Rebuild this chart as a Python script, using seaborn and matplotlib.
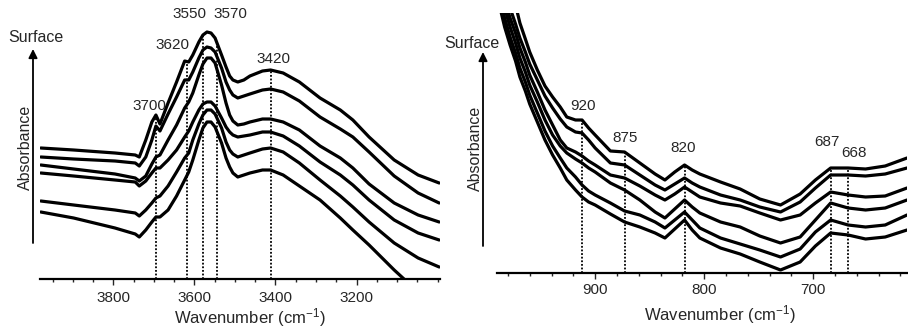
import numpy as np
import pandas as pd
import seaborn as sns
import matplotlib
matplotlib.use("Agg")
import matplotlib.pyplot as plt
from matplotlib.patches import FancyArrowPatch

# ─── Data: O-H stretching region (left panel) ─────────────────────────────────
oh_wavenumber = [3979, 3898, 3796, 3746, 3736, 3720, 3705, 3695, 3685, 3665,
                 3644, 3624, 3614, 3604, 3589, 3579, 3569, 3559, 3549, 3533,
                 3522, 3513, 3505, 3493, 3478, 3463, 3432, 3412, 3381, 3341,
                 3290, 3240, 3209, 3169, 3107, 3048, 2996]
oh_spectra = [
    [1.31, 1.29, 1.26, 1.24, 1.22, 1.39, 1.57, 1.64, 1.55, 1.76, 1.97, 2.18, 2.17, 2.24, 2.37, 2.44,
     2.47, 2.46, 2.41, 2.24, 2.12, 2.03, 1.99, 1.97, 1.99, 2.03, 2.08, 2.09, 2.06, 1.97, 1.81, 1.69,
     1.59, 1.42, 1.19, 1.04, 0.96],
    [1.22, 1.20, 1.18, 1.16, 1.13, 1.22, 1.39, 1.53, 1.48, 1.65, 1.82, 1.99, 1.99, 2.07, 2.21, 2.29,
     2.32, 2.31, 2.27, 2.11, 1.97, 1.89, 1.84, 1.81, 1.83, 1.85, 1.89, 1.90, 1.87, 1.78, 1.62, 1.50,
     1.42, 1.27, 1.03, 0.86, 0.76],
    [1.14, 1.10, 1.05, 1.01, 0.98, 1.03, 1.15, 1.22, 1.24, 1.39, 1.54, 1.71, 1.77, 1.86, 2.04, 2.15,
     2.21, 2.21, 2.16, 1.94, 1.76, 1.64, 1.58, 1.54, 1.55, 1.57, 1.60, 1.60, 1.57, 1.49, 1.33, 1.21,
     1.11, 0.95, 0.76, 0.64, 0.57],
    [1.06, 1.03, 0.99, 0.97, 0.93, 0.98, 1.06, 1.11, 1.11, 1.19, 1.29, 1.42, 1.48, 1.57, 1.69, 1.75,
     1.77, 1.77, 1.73, 1.61, 1.52, 1.47, 1.44, 1.42, 1.43, 1.44, 1.47, 1.47, 1.43, 1.33, 1.17, 1.04,
     0.94, 0.79, 0.59, 0.46, 0.39],
    [0.78, 0.74, 0.69, 0.66, 0.63, 0.69, 0.76, 0.81, 0.83, 0.93, 1.07, 1.21, 1.26, 1.39, 1.55, 1.64,
     1.69, 1.69, 1.65, 1.51, 1.37, 1.29, 1.25, 1.22, 1.24, 1.26, 1.30, 1.31, 1.27, 1.16, 0.99, 0.83,
     0.72, 0.57, 0.36, 0.21, 0.12],
    [0.67, 0.61, 0.51, 0.45, 0.42, 0.49, 0.57, 0.62, 0.62, 0.69, 0.83, 0.99, 1.07, 1.19, 1.39, 1.51,
     1.57, 1.57, 1.52, 1.36, 1.21, 1.12, 1.06, 1.02, 1.04, 1.06, 1.09, 1.09, 1.04, 0.93, 0.79, 0.61,
     0.49, 0.34, 0.09, -0.13, -0.24],
]
oh_marks = [3695, 3619, 3579, 3544, 3411]
oh_labels = ["3700", "3620", "3550", "3570", "3420"]
oh_label_pos = [(3712, 1.73), (3653, 2.34), (3612, 2.65), (3510, 2.65), (3404, 2.20)]

# ─── Data: lattice region (right panel) ───────────────────────────────────────
lat_wavenumber = [990, 983, 978, 973, 969, 964, 960, 953, 946, 939, 932, 926, 918, 912,
                  906, 900, 886, 873, 859, 845, 836, 827, 818, 811, 804, 785, 767, 749,
                  730, 712, 698, 684, 668, 652, 634, 614]
lat_spectra = [
    [3.33, 3.03, 2.85, 2.68, 2.50, 2.34, 2.21, 2.03, 1.87, 1.76, 1.66, 1.56, 1.53, 1.53,
     1.45, 1.38, 1.22, 1.21, 1.10, 0.99, 0.93, 1.01, 1.08, 1.03, 0.99, 0.91, 0.84, 0.74,
     0.68, 0.79, 0.93, 1.05, 1.05, 1.04, 1.07, 1.15],
    [3.18, 2.83, 2.65, 2.49, 2.35, 2.21, 2.09, 1.93, 1.77, 1.65, 1.54, 1.46, 1.41, 1.40,
     1.33, 1.25, 1.10, 1.08, 0.98, 0.88, 0.83, 0.89, 0.95, 0.90, 0.86, 0.78, 0.73, 0.66,
     0.61, 0.71, 0.85, 0.98, 0.98, 0.97, 0.99, 1.05],
    [3.08, 2.73, 2.55, 2.40, 2.25, 2.11, 1.98, 1.81, 1.63, 1.48, 1.33, 1.25, 1.21, 1.17,
     1.12, 1.08, 0.98, 0.95, 0.87, 0.78, 0.73, 0.79, 0.86, 0.81, 0.76, 0.70, 0.67, 0.60,
     0.53, 0.58, 0.70, 0.81, 0.78, 0.76, 0.77, 0.85],
    [2.98, 2.65, 2.46, 2.30, 2.15, 2.01, 1.88, 1.71, 1.53, 1.38, 1.27, 1.20, 1.14, 1.10,
     1.05, 1.01, 0.90, 0.83, 0.73, 0.61, 0.55, 0.64, 0.73, 0.66, 0.60, 0.51, 0.46, 0.37,
     0.30, 0.36, 0.53, 0.70, 0.65, 0.63, 0.65, 0.73],
    [2.88, 2.55, 2.36, 2.20, 2.05, 1.91, 1.78, 1.60, 1.42, 1.27, 1.15, 1.05, 0.96, 0.88,
     0.82, 0.78, 0.70, 0.62, 0.58, 0.51, 0.45, 0.53, 0.61, 0.53, 0.45, 0.35, 0.29, 0.23,
     0.16, 0.24, 0.41, 0.53, 0.48, 0.46, 0.48, 0.58],
    [2.78, 2.46, 2.28, 2.12, 1.96, 1.82, 1.69, 1.51, 1.33, 1.18, 1.05, 0.93, 0.83, 0.76,
     0.71, 0.68, 0.59, 0.51, 0.46, 0.40, 0.35, 0.44, 0.53, 0.43, 0.35, 0.25, 0.19, 0.11,
     0.03, 0.11, 0.27, 0.40, 0.38, 0.34, 0.36, 0.43],
]
lat_marks = [912, 873, 818, 684, 668]
lat_labels = ["920", "875", "820", "687", "668"]
lat_label_pos = [(911, 1.67), (873, 1.35), (819, 1.25), (687, 1.31), (663, 1.20)]

# ─── Style ────────────────────────────────────────────────────────────────────
sns.set_theme(style="white")
plt.rcParams['font.family'] = ['Liberation Sans', 'DejaVu Sans']
plt.rcParams['mathtext.fontset'] = 'custom'
plt.rcParams['mathtext.rm'] = 'Liberation Sans'
plt.rcParams['mathtext.it'] = 'Liberation Sans'

W, H = 908, 328
fig = plt.figure(figsize=(W / 100, H / 100), dpi=100)


def fpos(x, y):
    return (x / W, 1 - y / H)


def draw_panel(ax, wn, spectra, marks, labels, label_pos, xlim, ylim,
               major, minor, tick_pad, label_xy):
    for spec in spectra:
        df = pd.DataFrame({"wn": wn, "A": spec})
        sns.lineplot(data=df, x="wn", y="A", ax=ax, color="black", lw=2.3,
                     sort=False, estimator=None,
                     solid_joinstyle="round", solid_capstyle="round")
    top = np.array(spectra[0])[::-1]
    xs = np.array(wn)[::-1]
    for m in marks:
        ax.plot([m, m], [0, np.interp(m, xs, top)], color="black",
                lw=1.3, ls=(0, (1, 1)))
    for lab, (x, y) in zip(labels, label_pos):
        ax.text(x, y, lab, ha="center", va="center", fontsize=11)
    ax.set_xlim(*xlim)
    ax.set_ylim(*ylim)
    ax.set_yticks([])
    ax.set_xticks(major)
    ax.set_xticks(minor, minor=True)
    ax.tick_params(axis="x", which="major", direction="out", length=4.5,
                   width=1, pad=tick_pad, labelsize=11, bottom=True)
    ax.tick_params(axis="x", which="minor", direction="out", length=2.5,
                   width=1, bottom=True)
    for s in ["left", "top", "right"]:
        ax.spines[s].set_visible(False)
    ax.spines["bottom"].set_linewidth(1.6)
    ax.spines["bottom"].set_color("black")
    ax.set_ylabel("")
    ax.set_xlabel(r"Wavenumber (cm$^{-1}$)", fontsize=12)
    ax.xaxis.label.set_va("center")
    ax.xaxis.set_label_coords(*label_xy)
    ax.patch.set_alpha(0)


ax1 = fig.add_axes([40 / W, 49 / H, 400 / W, 269 / H])
draw_panel(ax1, oh_wavenumber, oh_spectra, oh_marks, oh_labels, oh_label_pos,
           (3981, 2994), (0, 2.69), [3800, 3600, 3400, 3200],
           np.arange(3000, 4000, 50), 4, (0.525, -0.142))

ax2 = fig.add_axes([497 / W, 55 / H, 410 / W, 260 / H])
draw_panel(ax2, lat_wavenumber, lat_spectra, lat_marks, lat_labels, lat_label_pos,
           (990, 614), (0, 2.60), [900, 800, 700],
           np.arange(620, 1000, 20), 3, (0.544, -0.16))

# ─── Surface arrows and labels ────────────────────────────────────────────────
for x, y0, y1, sx, sy, ay in [(33, 243, 49, 36, 37, 147), (483, 246, 52, 472, 43, 148)]:
    fig.add_artist(FancyArrowPatch(fpos(x, y0), fpos(x, y1), transform=fig.transFigure,
                                   arrowstyle="-|>", mutation_scale=13, lw=1.3,
                                   color="black", shrinkA=0, shrinkB=0))
    fig.text(*fpos(sx, sy), "Surface", ha="center", va="center", fontsize=11.5)
    fig.text(*fpos(x - 8, ay), "Absorbance", ha="center", va="center",
             rotation=90, fontsize=11.5)

fig.savefig("out.png", dpi=100)
